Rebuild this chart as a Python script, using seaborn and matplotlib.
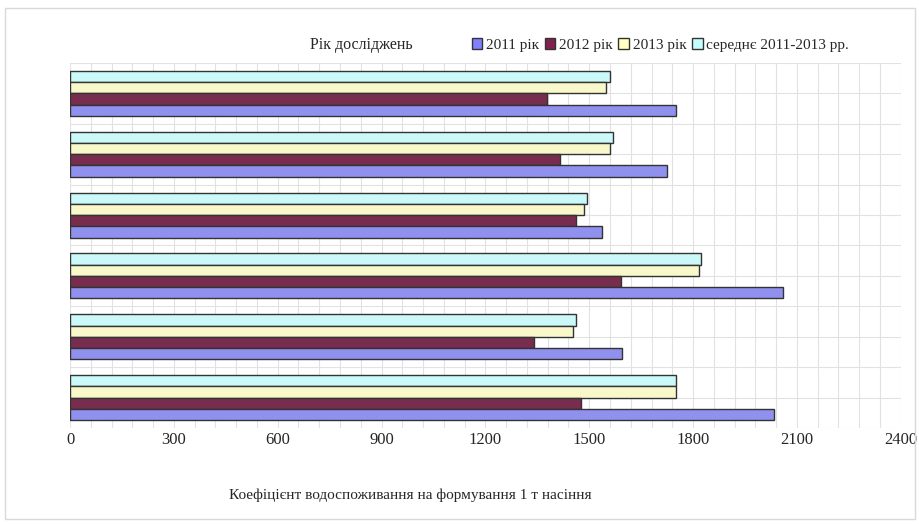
import numpy as np
import pandas as pd
import matplotlib
matplotlib.use("Agg")
import matplotlib.pyplot as plt
import matplotlib.patches as mpatches
import seaborn as sns

# values, top group first
groups = ["1", "2", "3", "4", "5", "6"]
y2011 = [1752, 1725, 1538, 2060, 1594, 2034]
y2012 = [1377, 1415, 1461, 1591, 1339, 1477]
y2013 = [1549, 1559, 1485, 1816, 1453, 1750]
avg = [1561, 1568, 1494, 1822, 1461, 1752]

series = ["2011 рік", "2012 рік", "2013 рік", "середнє 2011-2013 рр."]
colors = ["#8080FF", "#84204E", "#FFFFC4", "#C4FFFF"]

data = pd.DataFrame({
    "group": groups * 4,
    "value": y2011 + y2012 + y2013 + avg,
    "series": np.repeat(series, len(groups)),
})

sns.set_theme(style="white")
plt.rcParams["font.family"] = ["Liberation Serif", "DejaVu Serif"]

fig = plt.figure(figsize=(9.2, 5.24), dpi=100)
ax = fig.add_axes([0.0761, 0.183, 0.903, 0.697])

# Excel draws the first series at the bottom of each group
sns.barplot(data=data, y="group", x="value", hue="series",
            hue_order=series[::-1], palette=dict(zip(series, colors)),
            order=groups, orient="h", width=0.74, edgecolor="#333333",
            linewidth=1.0, ax=ax, legend=False)

ax.set_xlim(0, 2400)
ax.set_ylim(5.5, -0.5)
ax.set_xticks(np.arange(0, 2401, 300))
ax.set_xticks(np.arange(0, 2401, 60), minor=True)
ax.set_yticks(np.arange(-0.5, 5.6, 0.5))
ax.set_yticklabels([])
ax.grid(True, which="both", color="#E2E2E2", linewidth=0.8)
ax.set_axisbelow(True)
for s in ax.spines.values():
    s.set_visible(False)
ax.tick_params(axis="x", which="both", length=0, labelsize=12, pad=3)
ax.tick_params(axis="y", length=0)
ax.set_xlabel("")
ax.set_ylabel("")

fig.text(410 / 920, 1 - 495 / 524, "Коефіцієнт водоспоживання на формування 1 т насіння",
         ha="center", va="center", fontsize=11)
fig.text(310 / 920, 1 - 45 / 524, "Рік досліджень", ha="left", va="center", fontsize=11.5)

handles = [mpatches.Patch(facecolor=c, edgecolor="#333333", label=s)
           for s, c in zip(series, colors)]
fig.legend(handles=handles, loc="center left", bbox_to_anchor=(464 / 920, 1 - 45 / 524),
           ncol=4, frameon=False, fontsize=11, handlelength=0.7, handleheight=0.7,
           handletextpad=0.25, columnspacing=0.35, borderpad=0)

fig.patches.append(mpatches.Rectangle((0.005, 0.01), 0.99, 0.975, transform=fig.transFigure,
                                      fill=False, edgecolor="#D8D8D8", linewidth=1))

fig.savefig("out.png", dpi=100)
